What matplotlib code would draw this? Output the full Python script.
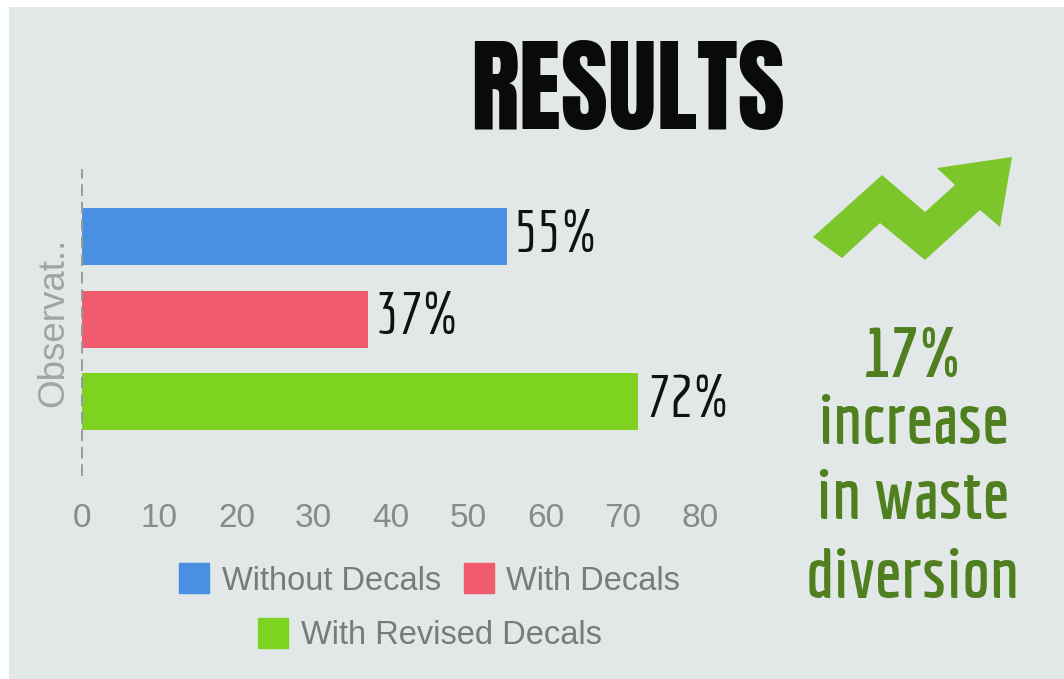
import matplotlib
matplotlib.use("Agg")
import matplotlib.pyplot as plt
from matplotlib.lines import Line2D
from matplotlib.patches import Rectangle, Polygon

# ---- data ----
categories = ["Without Decals", "With Decals", "With Revised Decals"]
values = [55, 37, 72]
value_labels = ["55%", "37%", "72%"]
colors = ["#4a90e2", "#f05b6e", "#7ed321"]
x_ticks = [0, 10, 20, 30, 40, 50, 60, 70, 80]
y_label = "Observat.."
title = "RESULTS"
side_lines = ["17%", "increase", "in waste", "diversion"]

W, H = 1064, 679
fig = plt.figure(figsize=(W / 100, H / 100), dpi=100)
fig.patch.set_facecolor("white")

def fx(px):
    return px / W

def fy(py):
    return 1 - py / H

title_font = ["Anton", "League Gothic", "Oswald", "Barlow Condensed", "DejaVu Sans"]
thin_font = ["Economica", "Advent Pro", "Barlow Condensed", "DejaVu Sans"]
side_font = ["Economica", "Barlow Condensed", "Asap Condensed", "DejaVu Sans"]
sans = ["Liberation Sans", "DejaVu Sans"]

# background panel (white strip at left and top)
fig.patches.append(Rectangle((fx(9), 0), 1 - fx(9), fy(7), transform=fig.transFigure,
                             facecolor="#e2e8e8", edgecolor="none", zorder=-5))

# axes
ax = fig.add_axes([fx(82), fy(475), fx(700) - fx(82), fy(170) - fy(475)])
ax.set_facecolor("none")
ax.set_zorder(2)
ypos = list(range(len(categories)))
ax.barh(ypos, values, height=0.69, color=colors, zorder=2)
ax.set_xlim(0, 80)
ax.set_ylim(2.89, -0.806)
ax.set_xticks(x_ticks)
ax.set_xticklabels([str(t) for t in x_ticks], fontsize=24, color="#8a8a8a", family=sans)
ax.set_yticks([])
ax.tick_params(axis="x", length=0, pad=20)
for s in ["top", "right", "bottom"]:
    ax.spines[s].set_visible(False)
ax.spines["left"].set_linestyle((0, (5, 4)))
ax.spines["left"].set_color("#9a9a9a")
ax.spines["left"].set_linewidth(1.4)
ax.set_ylabel(y_label, fontsize=26.5, color="#a3a3a3", family=sans, labelpad=8)

renderer = fig.canvas.get_renderer()

def fit_width(t, target_px):
    w = t.get_window_extent(renderer).width
    t.set_fontsize(t.get_fontsize() * target_px / w)

vtexts = []
for y, v, lab in zip(ypos, values, value_labels):
    t = ax.text(v + 1.0, y, lab, fontsize=40, color="#111111", family=thin_font,
                va="center", ha="left")
    vtexts.append(t)
fit_width(vtexts[0], 84)
for t in vtexts[1:]:
    t.set_fontsize(vtexts[0].get_fontsize())

# title
tt = fig.text(fx(628), fy(92), title, fontsize=84, fontweight="bold", family=title_font,
              color="#0a0a0a", ha="center", va="center")
fit_width(tt, 315)

# arrow decoration
arrow_pts = [(813, 237), (882, 175), (925, 212), (955, 185), (937, 168), (1012, 157),
             (1000, 227), (980, 210), (925, 260), (880, 223), (842, 258)]
fig.patches.append(Polygon([(fx(a), fy(b)) for a, b in arrow_pts], closed=True,
                           transform=fig.transFigure, facecolor="#7cc52a",
                           edgecolor="none", zorder=1))

# side text
baselines = [377, 444, 519, 598]
stexts = []
for line, b in zip(side_lines, baselines):
    t = fig.text(fx(913), fy(b), line, fontsize=45, fontweight="bold", family=side_font,
                 color="#4f7f1e", ha="center", va="baseline")
    stexts.append(t)
fit_width(stexts[3], 214)
for t in stexts[:3]:
    t.set_fontsize(stexts[3].get_fontsize())

# legends
def handle(c):
    return Line2D([0], [0], marker="s", linestyle="", markersize=21,
                  markerfacecolor=c, markeredgecolor=c)

leg_kw = dict(frameon=False, loc="center", handlelength=0.9,
              handletextpad=0.4, columnspacing=0.7, borderpad=0,
              prop={"family": sans, "size": 23.5}, labelcolor="#7a7a7a")
fig.legend([handle(colors[0]), handle(colors[1])], categories[:2], ncol=2,
           bbox_to_anchor=(fx(430), fy(581)), **leg_kw)
fig.legend([handle(colors[2])], categories[2:], ncol=1,
           bbox_to_anchor=(fx(430), fy(636)), **leg_kw)

fig.savefig("out.png", dpi=100, facecolor=fig.get_facecolor())
